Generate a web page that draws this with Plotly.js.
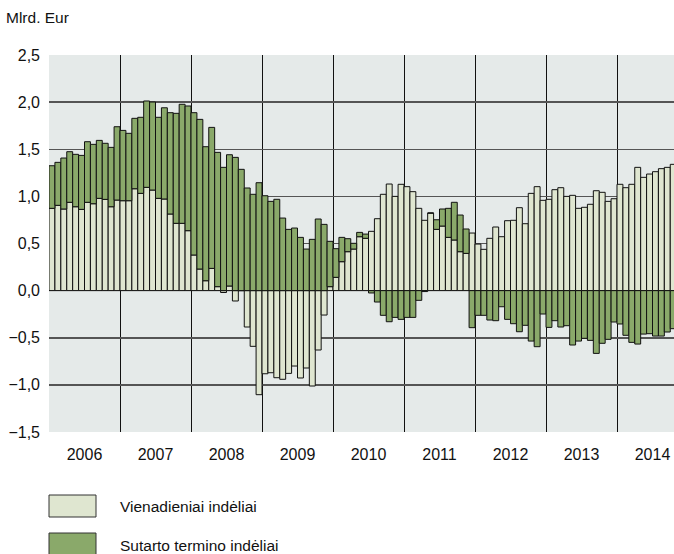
<!DOCTYPE html>
<html>
<head>
<meta charset="utf-8">
<script src="https://cdn.plot.ly/plotly-3.0.1.min.js"></script>
<style>html,body{margin:0;padding:0;background:#fff;}#chart{width:674px;height:554px;}</style>
</head>
<body>
<div id="chart"></div>
<script>
// Years shown on the axis
const years = [2006, 2007, 2008, 2009, 2010, 2011, 2012, 2013, 2014];
const yearLabels = ['2006', '2007', '2008', '2009', '2010', '2011', '2012', '2013', '2014'];

// Monthly values, Jan 2006 – Oct 2014 (billion EUR)
const overnight = [
  // 2006
  0.873, 0.905, 0.866, 0.937, 0.890, 0.862, 0.937, 0.922, 0.979, 0.968, 0.890, 0.961,
  // 2007
  0.954, 0.954, 1.081, 1.032, 1.096, 1.067, 0.979, 0.972, 0.813, 0.714, 0.714, 0.636,
  // 2008
  0.378, 0.229, 0.105, 0.236, 0.042, -0.020, 0.049, -0.110, 0.000, -0.386, -0.591, -1.104,
  // 2009
  -0.882, -0.871, -0.924, -0.941, -0.878, -0.800, -0.927, -0.821, -1.012, -0.630, -0.259, 0.042,
  // 2010
  0.141, 0.307, 0.413, 0.441, 0.572, 0.555, 0.629, 0.763, 1.022, 1.131, 1.000, 1.128,
  // 2011
  1.103, 1.050, 0.873, 0.746, 0.823, 0.650, 0.685, 0.565, 0.537, 0.413, 0.395, 0.611,
  // 2012
  0.494, 0.438, 0.555, 0.675, 0.572, 0.742, 0.746, 0.880, 0.710, 1.032, 1.103, 0.958,
  // 2013
  0.969, 1.071, 1.092, 1.000, 1.011, 0.873, 0.884, 0.916, 1.060, 1.043, 0.947, 0.975,
  // 2014
  1.128, 1.092, 1.128, 1.308, 1.202, 1.237, 1.262, 1.294, 1.308, 1.340
];
const term = [
  // 2006
  0.452, 0.456, 0.541, 0.537, 0.556, 0.573, 0.643, 0.630, 0.615, 0.595, 0.630, 0.778,
  // 2007
  0.746, 0.715, 0.747, 0.807, 0.916, 0.934, 0.860, 0.968, 1.075, 1.167, 1.263, 1.323,
  // 2008
  1.510, 1.588, 1.422, 1.496, 1.425, 1.308, 1.393, 1.414, 1.287, 1.089, 1.022, 1.145,
  // 2009
  1.007, 0.947, 0.969, 0.770, 0.650, 0.664, 0.565, 0.441, 0.544, 0.760, 0.703, 0.481,
  // 2010
  0.304, 0.258, 0.138, 0.061, 0.046, 0.045, -0.025, -0.121, -0.262, -0.330, -0.284, -0.305,
  // 2011
  -0.284, -0.284, -0.103, -0.010, 0.000, 0.102, 0.181, 0.308, 0.400, 0.389, 0.259, -0.393,
  // 2012
  -0.262, -0.262, -0.312, -0.319, -0.171, -0.305, -0.351, -0.436, -0.368, -0.535, -0.595, -0.248,
  // 2013
  -0.390, -0.319, -0.386, -0.372, -0.577, -0.535, -0.506, -0.528, -0.666, -0.559, -0.517, -0.333,
  // 2014
  -0.354, -0.474, -0.549, -0.567, -0.461, -0.457, -0.482, -0.482, -0.439, -0.404
];

const yTickVals = [2.5, 2.0, 1.5, 1.0, 0.5, 0.0, -0.5, -1.0, -1.5];
const yTickText = ['2,5', '2,0', '1,5', '1,0', '0,5', '0,0', '\u22120,5', '\u22121,0', '\u22121,5'];

const seriesNames = ['Vienadieniai ind\u0117liai', 'Sutarto termino ind\u0117liai'];
const colors = ['#dfe6d0', '#8aa96a'];

// month positions (decimal years, centre of each month)
const monthX = overnight.map((_, i) => years[0] + Math.floor(i / 12) + ((i % 12) + 0.5) / 12);

const FONT = '"Liberation Sans", Arial, sans-serif';
const FS = 15.5;

const traces = [
  {type: 'bar', x: monthX, y: overnight, name: seriesNames[0], width: 1/12,
   marker: {color: colors[0], line: {color: '#111', width: 1}}, showlegend: false, hoverinfo: 'x+y'},
  {type: 'bar', x: monthX, y: term, name: seriesNames[1], width: 1/12,
   marker: {color: colors[1], line: {color: '#111', width: 1}}, showlegend: false, hoverinfo: 'x+y'}
];

const L = 49, R = 674, T = 55, B = 432;
const pw = R - L, ph = B - T;
const px = v => (v - L) / pw;
const py = v => (B - v) / ph;

const layout = {
  width: 674, height: 554,
  margin: {l: L, r: 674 - R, t: T, b: 554 - B, pad: 0},
  paper_bgcolor: '#ffffff',
  plot_bgcolor: '#e5eae9',
  barmode: 'relative',
  bargap: 0,
  showlegend: false,
  font: {family: FONT, size: FS, color: '#111'},
  xaxis: {
    range: [2006, 2006 + pw / 71],
    tickvals: years.map(y => y + 0.5),
    ticktext: yearLabels,
    ticks: '', showgrid: false, zeroline: false, showline: false,
    tickfont: {family: FONT, size: FS + 0.5, color: '#111'},
    ticklabelstandoff: 11,
    minor: {tickvals: years.slice(1), showgrid: true, gridcolor: '#111', gridwidth: 1, ticks: ''}
  },
  yaxis: {
    range: [-1.5, 2.5],
    tickvals: yTickVals, ticktext: yTickText,
    ticks: '', showgrid: true, gridcolor: '#555', gridwidth: 1.5,
    zeroline: true, zerolinecolor: '#000', zerolinewidth: 1.5,
    showline: false,
    tickfont: {family: FONT, size: FS + 0.5, color: '#111'},
    ticklabelstandoff: 8
  },
  shapes: [
    {type: 'rect', xref: 'paper', yref: 'paper', x0: px(49), x1: px(96), y0: py(495), y1: py(517),
     fillcolor: colors[0], line: {color: '#333', width: 1}},
    {type: 'rect', xref: 'paper', yref: 'paper', x0: px(49), x1: px(96), y0: py(533), y1: py(556),
     fillcolor: colors[1], line: {color: '#333', width: 1}}
  ],
  annotations: [
    {xref: 'paper', yref: 'paper', x: px(4), y: py(18), xanchor: 'left', yanchor: 'middle',
     text: 'Mlrd. Eur', showarrow: false, font: {family: FONT, size: FS, color: '#111'}},
    {xref: 'paper', yref: 'paper', x: px(118), y: py(506), xanchor: 'left', yanchor: 'middle',
     text: seriesNames[0], showarrow: false, font: {family: FONT, size: FS, color: '#111'}},
    {xref: 'paper', yref: 'paper', x: px(118), y: py(545), xanchor: 'left', yanchor: 'middle',
     text: seriesNames[1], showarrow: false, font: {family: FONT, size: FS, color: '#111'}}
  ]
};

Plotly.newPlot('chart', traces, layout, {displayModeBar: false, staticPlot: true});
</script>
</body>
</html>
